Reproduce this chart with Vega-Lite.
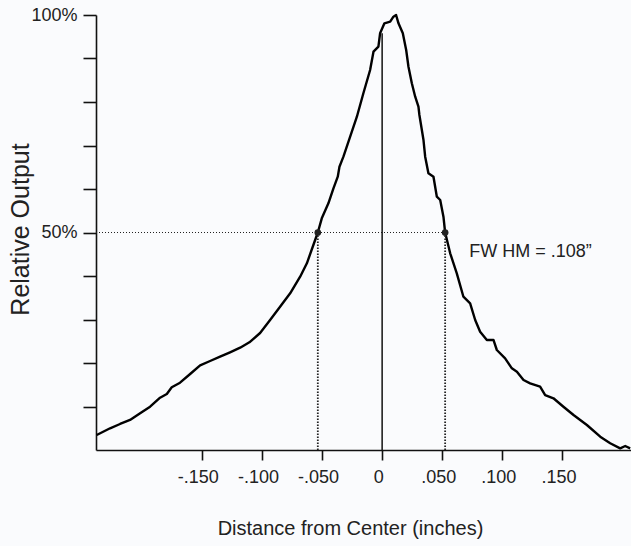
{
  "$schema": "https://vega.github.io/schema/vega-lite/v6.json",
  "autosize": "none",
  "padding": {"left": 96, "top": 15, "right": 0, "bottom": 96},
  "width": 535,
  "height": 435,
  "background": "#fafbfd",
  "config": {
    "view": {"stroke": null},
    "font": "Liberation Sans",
    "axis": {"grid": false, "domainColor": "#111", "tickColor": "#111", "domainWidth": 1.6, "tickWidth": 1.6, "labelColor": "#222", "titleColor": "#222", "labelFont": "Liberation Sans", "titleFont": "Liberation Sans", "titleFontWeight": "normal"}
  },
  "datasets": {
    "curve": [
      {"x": -0.2374, "y": 3.45}, {"x": -0.2263, "y": 4.99}, {"x": -0.2180, "y": 5.98}, {"x": -0.2097, "y": 6.9},
      {"x": -0.2013, "y": 8.44}, {"x": -0.1930, "y": 9.95}, {"x": -0.1847, "y": 12.02}, {"x": -0.1791, "y": 12.87},
      {"x": -0.1750, "y": 14.41}, {"x": -0.1681, "y": 15.47}, {"x": -0.1597, "y": 17.47}, {"x": -0.1514, "y": 19.47},
      {"x": -0.1431, "y": 20.46}, {"x": -0.1348, "y": 21.45}, {"x": -0.1265, "y": 22.46}, {"x": -0.1181, "y": 23.52},
      {"x": -0.1104, "y": 24.76}, {"x": -0.1015, "y": 26.9}, {"x": -0.0932, "y": 29.89}, {"x": -0.0849, "y": 32.94},
      {"x": -0.0765, "y": 36.02}, {"x": -0.0682, "y": 39.84}, {"x": -0.0626, "y": 42.92}, {"x": -0.0572, "y": 47.13},
      {"x": -0.0535, "y": 50.0}, {"x": -0.0502, "y": 53.26}, {"x": -0.0447, "y": 56.71}, {"x": -0.0405, "y": 60.16},
      {"x": -0.0369, "y": 62.83}, {"x": -0.0355, "y": 65.13}, {"x": -0.0322, "y": 67.43}, {"x": -0.0266, "y": 72.02},
      {"x": -0.0210, "y": 76.62}, {"x": -0.0156, "y": 82.0}, {"x": -0.0100, "y": 87.36}, {"x": -0.0072, "y": 91.56},
      {"x": -0.0031, "y": 92.71}, {"x": -0.0017, "y": 95.79}, {"x": 0.0019, "y": 98.09}, {"x": 0.0067, "y": 98.46},
      {"x": 0.0094, "y": 99.61}, {"x": 0.0116, "y": 100.0}, {"x": 0.0136, "y": 98.09}, {"x": 0.0172, "y": 95.79},
      {"x": 0.0200, "y": 91.95}, {"x": 0.0219, "y": 88.11}, {"x": 0.0247, "y": 84.3}, {"x": 0.0275, "y": 81.22},
      {"x": 0.0302, "y": 78.92}, {"x": 0.0310, "y": 77.01}, {"x": 0.0344, "y": 71.26}, {"x": 0.0358, "y": 67.43},
      {"x": 0.0385, "y": 63.61}, {"x": 0.0427, "y": 62.83}, {"x": 0.0455, "y": 58.23}, {"x": 0.0483, "y": 57.47},
      {"x": 0.0510, "y": 53.63}, {"x": 0.0524, "y": 50.0}, {"x": 0.0566, "y": 45.22}, {"x": 0.0621, "y": 40.62},
      {"x": 0.0676, "y": 35.24}, {"x": 0.0732, "y": 33.72}, {"x": 0.0774, "y": 29.89}, {"x": 0.0815, "y": 27.2},
      {"x": 0.0871, "y": 25.29}, {"x": 0.0926, "y": 25.29}, {"x": 0.0954, "y": 22.99}, {"x": 0.1023, "y": 21.08},
      {"x": 0.1079, "y": 18.78}, {"x": 0.1121, "y": 18.0}, {"x": 0.1176, "y": 16.09}, {"x": 0.1231, "y": 15.33},
      {"x": 0.1314, "y": 14.55}, {"x": 0.1356, "y": 12.64}, {"x": 0.1425, "y": 11.89}, {"x": 0.1508, "y": 9.95},
      {"x": 0.1592, "y": 8.05}, {"x": 0.1703, "y": 5.75}, {"x": 0.1814, "y": 3.06}, {"x": 0.1897, "y": 1.54},
      {"x": 0.1980, "y": 0.39}, {"x": 0.2022, "y": 0.92}, {"x": 0.2063, "y": 0.39}
    ],
    "halfmax": [
      {"x": -0.0535, "y": 50, "y0": 0},
      {"x": 0.0524, "y": 50, "y0": 0}
    ]
  },
  "layer": [
    {
      "data": {"name": "curve"},
      "mark": {"type": "line", "color": "#000", "strokeWidth": 2.4, "strokeJoin": "round"},
      "encoding": {
        "x": {
          "field": "x", "type": "quantitative",
          "scale": {"domain": [-0.238, 0.207], "nice": false, "zero": false},
          "axis": {
            "values": [-0.15, -0.1, -0.05, 0, 0.05, 0.1, 0.15],
            "labelExpr": "datum.value == 0 ? '0' : (datum.value < 0 ? '-' : '') + '.' + format(abs(datum.value) * 1000, '03d')",
            "tickSize": 10,
            "labelPadding": 8,
            "labelOffset": -4,
            "labelFontSize": 18,
            "labelFlush": false,
            "title": "Distance from Center (inches)",
            "titleFontSize": 20,
            "titleX": 254,
            "titleY": 78,
            "titleAlign": "center",
            "titleBaseline": "middle"
          }
        },
        "y": {
          "field": "y", "type": "quantitative",
          "scale": {"domain": [0, 100], "nice": false},
          "axis": {
            "values": [10, 20, 30, 40, 50, 60, 70, 80, 90, 100],
            "labelExpr": "datum.value == 50 || datum.value == 100 ? datum.value + '%' : ''",
            "tickSize": 13,
            "labelPadding": 6,
            "labelFontSize": 18,
            "labelFlush": false,
            "title": "Relative Output",
            "titleFontSize": 25,
            "titleAngle": -90,
            "titleX": -76,
            "titleY": 214,
            "titleAlign": "center",
            "titleBaseline": "middle"
          }
        }
      }
    },
    {
      "data": {"values": [{"x": -0.238, "x2": 0.0524, "y": 50}]},
      "mark": {"type": "rule", "color": "#222", "strokeWidth": 1, "strokeDash": [1, 2]},
      "encoding": {
        "x": {"field": "x", "type": "quantitative"},
        "x2": {"field": "x2"},
        "y": {"field": "y", "type": "quantitative"}
      }
    },
    {
      "data": {"name": "halfmax"},
      "mark": {"type": "rule", "color": "#222", "strokeWidth": 1.8, "strokeDash": [1.5, 1.5]},
      "encoding": {
        "x": {"field": "x", "type": "quantitative"},
        "y": {"field": "y0", "type": "quantitative"},
        "y2": {"field": "y"}
      }
    },
    {
      "data": {"values": [{"x": 0, "y0": 0, "y": 95.8}]},
      "mark": {"type": "rule", "color": "#111", "strokeWidth": 1.5},
      "encoding": {
        "x": {"field": "x", "type": "quantitative"},
        "y": {"field": "y0", "type": "quantitative"},
        "y2": {"field": "y"}
      }
    },
    {
      "data": {"name": "halfmax"},
      "mark": {"type": "point", "filled": true, "color": "#222", "size": 45, "opacity": 1},
      "encoding": {
        "x": {"field": "x", "type": "quantitative"},
        "y": {"field": "y", "type": "quantitative"}
      }
    },
    {
      "data": {"values": [{"x": 0.0724, "y": 44.4, "label": "FW HM = .108\u201d"}]},
      "mark": {"type": "text", "align": "left", "baseline": "alphabetic", "fontSize": 18, "color": "#222", "font": "Liberation Sans"},
      "encoding": {
        "x": {"field": "x", "type": "quantitative"},
        "y": {"field": "y", "type": "quantitative"},
        "text": {"field": "label"}
      }
    }
  ]
}
